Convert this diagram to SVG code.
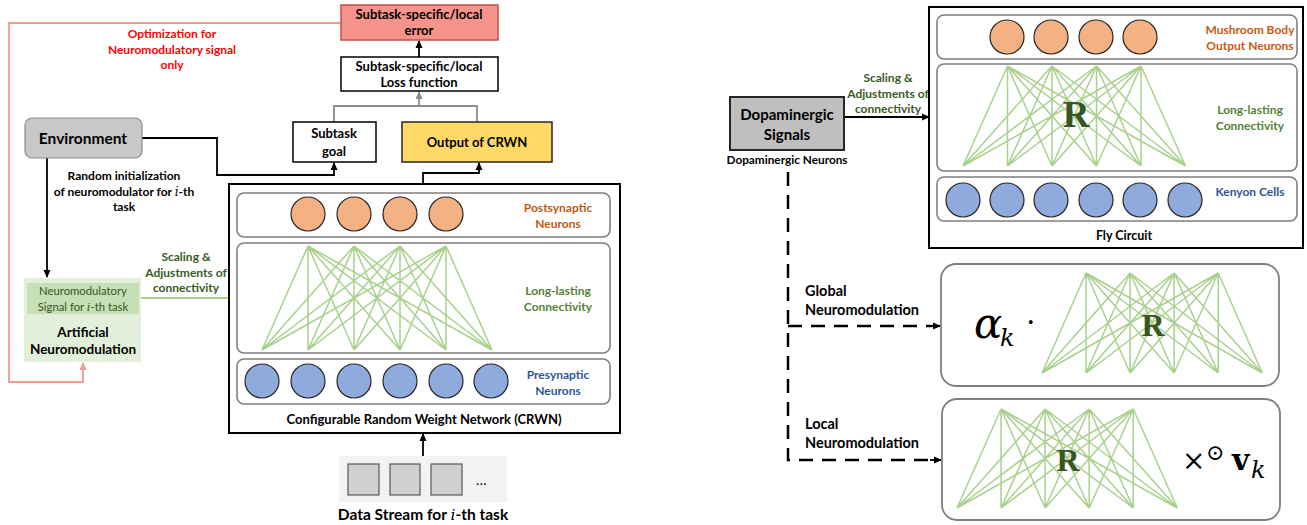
<svg xmlns="http://www.w3.org/2000/svg" xmlns:xlink="http://www.w3.org/1999/xlink" width="1307" height="525" viewBox="0 0 1307 525">
<defs>
<style>
text{font-family:Lato,"Liberation Sans",sans-serif;font-weight:bold;}
.lbl{font-size:12px;}
.mid{text-anchor:middle;}
.row{fill:#fff;stroke:#7f7f7f;stroke-width:1.6;}
.org{fill:#F4B183;stroke:#262626;stroke-width:1.2;}
.blu{fill:#8FAADC;stroke:#262626;stroke-width:1.2;}
.bip{fill:none;stroke:#A9D18E;stroke-width:1.5;}
.box{fill:#fff;stroke:#000;stroke-width:1.5;}
.sq{fill:#D0D0D0;stroke:#595959;stroke-width:1.2;}
.con{fill:none;stroke:#000;stroke-width:1.8;}
.dash{fill:none;stroke:#000;stroke-width:2.5;stroke-dasharray:14 9;}
.math{font-family:"DejaVu Serif","Liberation Serif",serif;font-weight:normal;}
.rr{font-family:"Liberation Serif","DejaVu Serif",serif;font-weight:bold;fill:#375623;text-anchor:middle;}
</style>
<marker id="ab" markerWidth="8" markerHeight="8" refX="7" refY="4" orient="auto" markerUnits="userSpaceOnUse"><path d="M0,0.5 L8,4 L0,7.5 z" fill="#000"/></marker>
<marker id="ag" markerWidth="8" markerHeight="8" refX="7" refY="4" orient="auto" markerUnits="userSpaceOnUse"><path d="M0,0.5 L8,4 L0,7.5 z" fill="#8c8c8c"/></marker>
<marker id="ar" markerWidth="8" markerHeight="8" refX="7" refY="4" orient="auto" markerUnits="userSpaceOnUse"><path d="M0,0.5 L8,4 L0,7.5 z" fill="#F59A94"/></marker>
<marker id="agr" markerWidth="8" markerHeight="8" refX="7" refY="4" orient="auto" markerUnits="userSpaceOnUse"><path d="M0,0.5 L8,4 L0,7.5 z" fill="#A9D18E"/></marker>
<path id="bip" vector-effect="non-scaling-stroke" d="M44.5 0L0 100M44.5 0L44.5 100M44.5 0L89 100M44.5 0L133.5 100M44.5 0L178 100M44.5 0L222.5 100M89 0L0 100M89 0L44.5 100M89 0L89 100M89 0L133.5 100M89 0L178 100M89 0L222.5 100M133.5 0L0 100M133.5 0L44.5 100M133.5 0L89 100M133.5 0L133.5 100M133.5 0L178 100M133.5 0L222.5 100M178 0L0 100M178 0L44.5 100M178 0L89 100M178 0L133.5 100M178 0L178 100M178 0L222.5 100"/>
</defs>
<rect width="1307" height="525" fill="#fff"/>

<g id="connectors">
  <line class="con" x1="419" y1="57" x2="419" y2="41" marker-end="url(#ab)"/>
  <polyline fill="none" stroke="#8c8c8c" stroke-width="1.8" points="334,122 334,106 477,106 477,122"/>
  <line stroke="#8c8c8c" stroke-width="1.8" x1="419" y1="106" x2="419" y2="92" marker-end="url(#ag)"/>
  <polyline class="con" points="141,138 217,138 217,175 334,175 334,163" marker-end="url(#ab)"/>
  <polyline class="con" points="423,184 423,173 479,173 479,163" marker-end="url(#ab)"/>
  <line class="con" x1="47" y1="158" x2="47" y2="277" marker-end="url(#ab)"/>
  <polyline fill="none" stroke="#F59A94" stroke-width="1.8" points="341,23 9,23 9,382 83,382 83,363" marker-end="url(#ar)"/>
  <line stroke="#A9D18E" stroke-width="1.8" x1="141" y1="298" x2="236" y2="298" marker-end="url(#agr)"/>
  <line class="con" x1="423" y1="457" x2="423" y2="434" marker-end="url(#ab)"/>
  <line class="con" x1="844" y1="117" x2="929" y2="117" marker-end="url(#ab)"/>
  <path class="dash" d="M788,172 V460 H932"/>
  <path class="dash" d="M788,326 H932"/>
  <line class="con" x1="930" y1="326" x2="940" y2="326" marker-end="url(#ab)"/>
  <line class="con" x1="930" y1="460" x2="941" y2="460" marker-end="url(#ab)"/>
  <text class="lbl mid" fill="#FF0000" x="172" y="38">Optimization for</text>
  <text class="lbl mid" fill="#FF0000" x="172" y="54">Neuromodulatory signal</text>
  <text class="lbl mid" fill="#FF0000" x="172" y="69">only</text>
  <text class="lbl mid" fill="#000" x="124" y="180">Random initialization</text>
  <text class="lbl mid" fill="#000" x="124" y="196">of neuromodulator for <tspan class="math" font-style="italic">i</tspan>-th</text>
  <text class="lbl mid" fill="#000" x="124" y="211">task</text>
  <text class="lbl mid" fill="#3A5A24" x="186" y="261">Scaling &amp;</text>
  <text class="lbl mid" fill="#3A5A24" x="186" y="277">Adjustments of</text>
  <text class="lbl mid" fill="#3A5A24" x="186" y="292">connectivity</text>
  <text class="lbl mid" fill="#3A5A24" x="888" y="82">Scaling &amp;</text>
  <text class="lbl mid" fill="#3A5A24" x="888" y="98">Adjustments of</text>
  <text class="lbl mid" fill="#3A5A24" x="888" y="113">connectivity</text>
  <text fill="#000" font-size="14.5" x="805" y="296">Global</text>
  <text fill="#000" font-size="14.5" x="805" y="315">Neuromodulation</text>
  <text fill="#000" font-size="14.5" x="805" y="429">Local</text>
  <text fill="#000" font-size="14.5" x="805" y="448">Neuromodulation</text>
</g>

<g id="error">
  <rect x="341" y="5" width="157" height="35" fill="#F6938B" stroke="#C0504D" stroke-width="1.5"/>
  <text class="mid" font-size="13" x="419" y="19">Subtask-specific/local</text>
  <text class="mid" font-size="13" x="419" y="35">error</text>
</g>
<g id="loss">
  <rect class="box" x="341" y="57" width="157" height="34"/>
  <text class="mid" font-size="13" x="419" y="71">Subtask-specific/local</text>
  <text class="mid" font-size="13" x="419" y="87">Loss function</text>
</g>
<g id="goal">
  <rect class="box" x="293" y="122" width="83" height="40"/>
  <text class="mid" font-size="13" x="334" y="138">Subtask</text>
  <text class="mid" font-size="13" x="334" y="156">goal</text>
</g>
<g id="output">
  <rect x="402" y="122" width="150" height="40" fill="#FFD966" stroke="#262626" stroke-width="1.5"/>
  <text class="mid" font-size="13" x="477" y="147">Output of CRWN</text>
</g>
<g id="environment">
  <rect x="25" y="118" width="117" height="40" rx="7" fill="#C8C8C8" stroke="#8c8c8c" stroke-width="1.2"/>
  <text class="mid" font-size="15.5" x="83" y="144">Environment</text>
</g>
<g id="neuromodulation">
  <rect x="24" y="278" width="117" height="84" fill="#E2EFDA"/>
  <rect x="27" y="283" width="112" height="31" fill="#C5E0B4"/>
  <text class="mid" font-size="11.3" style="font-weight:normal" fill="#375623" x="83" y="295">Neuromodulatory</text>
  <text class="mid" font-size="11.3" style="font-weight:normal" fill="#375623" x="83" y="311">Signal for <tspan class="math" font-style="italic">i</tspan>-th task</text>
  <text class="mid" font-size="13.5" fill="#000" x="83" y="337">Artificial</text>
  <text class="mid" font-size="13.5" fill="#000" x="83" y="354">Neuromodulation</text>
</g>
<g id="crwn">
  <rect x="229" y="184" width="391" height="249" fill="#fff" stroke="#000" stroke-width="2"/>
  <rect class="row" x="237" y="193" width="373" height="44" rx="7"/>
  <rect class="row" x="237" y="243" width="373" height="110" rx="7"/>
  <rect class="row" x="237" y="359" width="373" height="45" rx="7"/>
  <circle class="org" cx="308" cy="214" r="17"/>
  <circle class="org" cx="354" cy="214" r="17"/>
  <circle class="org" cx="400" cy="214" r="17"/>
  <circle class="org" cx="446" cy="214" r="17"/>
  <use xlink:href="#bip" class="bip" transform="translate(262,246) scale(1.0337,1.04)"/>
  <circle class="blu" cx="262" cy="381" r="17"/>
  <circle class="blu" cx="308" cy="381" r="17"/>
  <circle class="blu" cx="354" cy="381" r="17"/>
  <circle class="blu" cx="400" cy="381" r="17"/>
  <circle class="blu" cx="446" cy="381" r="17"/>
  <circle class="blu" cx="491" cy="381" r="17"/>
  <text class="lbl mid" fill="#C55A11" x="558" y="212">Postsynaptic</text>
  <text class="lbl mid" fill="#C55A11" x="558" y="228">Neurons</text>
  <text class="lbl mid" fill="#548235" x="558" y="295">Long-lasting</text>
  <text class="lbl mid" fill="#548235" x="558" y="311">Connectivity</text>
  <text class="lbl mid" fill="#2F5597" x="558" y="379">Presynaptic</text>
  <text class="lbl mid" fill="#2F5597" x="558" y="395">Neurons</text>
  <text class="mid" font-size="13" x="424" y="424">Configurable Random Weight Network (CRWN)</text>
</g>
<g id="datastream">
  <rect x="339" y="456" width="168" height="46" fill="#F2F2F2"/>
  <rect class="sq" x="348" y="464" width="31" height="31"/>
  <rect class="sq" x="390" y="464" width="30" height="31"/>
  <rect class="sq" x="431" y="464" width="31" height="31"/>
  <text font-size="14" style="font-weight:normal" x="476" y="485">…</text>
  <text class="mid" font-size="15.5" x="423" y="520">Data Stream for <tspan class="math" font-style="italic">i</tspan>-th task</text>
</g>
<g id="dopamine">
  <rect x="730" y="97" width="114" height="53" fill="#BFBFBF" stroke="#262626" stroke-width="2"/>
  <text class="mid" font-size="15" x="787" y="120">Dopaminergic</text>
  <text class="mid" font-size="15" x="787" y="140">Signals</text>
  <text class="mid" font-size="11.8" x="787" y="164">Dopaminergic Neurons</text>
</g>
<g id="flycircuit">
  <rect x="929" y="7" width="374" height="241" fill="#fff" stroke="#000" stroke-width="2"/>
  <rect class="row" x="937" y="15" width="360" height="44" rx="7"/>
  <rect class="row" x="937" y="64" width="360" height="107" rx="7"/>
  <rect class="row" x="937" y="177" width="360" height="44" rx="7"/>
  <circle class="org" cx="1007" cy="37" r="17"/>
  <circle class="org" cx="1051" cy="37" r="17"/>
  <circle class="org" cx="1096" cy="37" r="17"/>
  <circle class="org" cx="1140" cy="37" r="17"/>
  <use xlink:href="#bip" class="bip" transform="translate(963,66)"/>
  <circle class="blu" cx="963" cy="200" r="17"/>
  <circle class="blu" cx="1007" cy="200" r="17"/>
  <circle class="blu" cx="1051" cy="200" r="17"/>
  <circle class="blu" cx="1096" cy="200" r="17"/>
  <circle class="blu" cx="1140" cy="200" r="17"/>
  <circle class="blu" cx="1185" cy="200" r="17"/>
  <text class="rr" font-size="37" x="1076" y="127">R</text>
  <text class="lbl mid" fill="#C55A11" x="1250" y="34">Mushroom Body</text>
  <text class="lbl mid" fill="#C55A11" x="1250" y="50">Output Neurons</text>
  <text class="lbl mid" fill="#548235" x="1250" y="114">Long-lasting</text>
  <text class="lbl mid" fill="#548235" x="1250" y="130">Connectivity</text>
  <text class="lbl mid" fill="#2F5597" x="1250" y="196">Kenyon Cells</text>
  <text class="mid" font-size="12.5" x="1124" y="240">Fly Circuit</text>
</g>
<g id="global">
  <rect x="941" y="264" width="338" height="122" rx="15" fill="#fff" stroke="#7f7f7f" stroke-width="1.8"/>
  <use xlink:href="#bip" class="bip" transform="translate(1042,273) scale(0.99,1)"/>
  <text class="math" font-size="42" font-style="italic" x="974" y="338">α</text>
  <text class="math" font-size="24" font-style="italic" x="1000" y="346">k</text>
  <text class="math" font-size="30" x="1026" y="332">·</text>
  <text class="rr" font-size="32" x="1153" y="336">R</text>
</g>
<g id="local">
  <rect x="942" y="399" width="338" height="121" rx="15" fill="#fff" stroke="#7f7f7f" stroke-width="1.8"/>
  <use xlink:href="#bip" class="bip" transform="translate(957,409) scale(0.99,0.99)"/>
  <text class="rr" font-size="32" x="1068" y="471">R</text>
  <text class="math" font-size="28" x="1182" y="470">×</text>
  <text class="math" font-size="22" x="1206" y="460">⊙</text>
  <text class="math" font-size="30" style="font-weight:bold" x="1232" y="470">v</text>
  <text class="math" font-size="24" font-style="italic" x="1251" y="478">k</text>
</g>
</svg>
